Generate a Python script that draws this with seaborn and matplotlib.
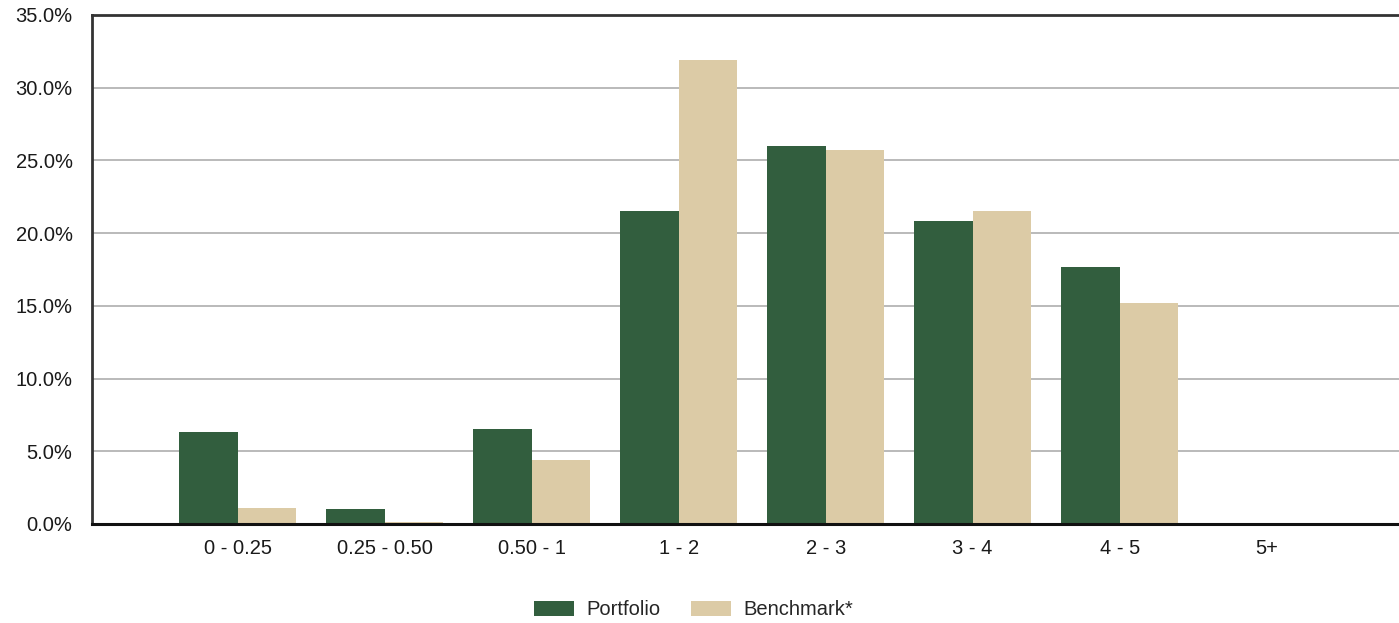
import pandas as pd
import seaborn as sns
import matplotlib.pyplot as plt
from matplotlib.ticker import FuncFormatter

sns.set_theme(style="white")
plt.rcParams['font.family'] = ['Liberation Sans', 'DejaVu Sans']

# Duration buckets (years) and weights (%)
buckets = ["0 - 0.25", "0.25 - 0.50", "0.50 - 1", "1 - 2", "2 - 3", "3 - 4", "4 - 5", "5+"]
portfolio = [6.3, 1.05, 6.5, 21.5, 26.0, 20.8, 17.7, 0.0]
benchmark = [1.1, 0.1, 4.4, 31.9, 25.7, 21.5, 15.2, 0.0]
series = ["Portfolio", "Benchmark*"]
colors = ["#325e3e", "#dccba6"]

data = pd.DataFrame({
    "Bucket": buckets * 2,
    "Weight": portfolio + benchmark,
    "Series": [series[0]] * len(buckets) + [series[1]] * len(buckets),
})

fig = plt.figure(figsize=(13.99, 6.23), dpi=100)
ax = fig.add_axes([0.0658, 0.159, 0.9342, 0.817])

sns.barplot(data=data, x="Bucket", y="Weight", hue="Series", order=buckets,
            hue_order=series, palette=colors, width=0.8, saturation=1,
            linewidth=0, ax=ax, legend=True)

ax.set_ylim(0, 35)
ax.set_yticks(range(0, 36, 5))
ax.yaxis.set_major_formatter(FuncFormatter(lambda v, p: f"{v:.1f}%"))
ax.set_xlim(-0.99, 7.9)
ax.set_xlabel("")
ax.set_ylabel("")

ax.yaxis.grid(True, color="#b4b4b4", linewidth=1.3)
ax.set_axisbelow(True)

for side in ["left", "top"]:
    ax.spines[side].set_color("#333333")
    ax.spines[side].set_linewidth(2)
ax.spines["bottom"].set_color("#111111")
ax.spines["bottom"].set_linewidth(2.2)
ax.spines["right"].set_visible(False)

ax.tick_params(axis="both", labelsize=14.5, colors="#1a1a1a", length=0)
ax.tick_params(axis="y", pad=14)
ax.tick_params(axis="x", pad=11)

ax.legend(loc="center", bbox_to_anchor=(0.46, -0.169), ncol=2,
          frameon=False, fontsize=14.5, handlelength=2.0, handleheight=0.75,
          columnspacing=1.5, handletextpad=0.6)

fig.savefig("out.png", dpi=100)
